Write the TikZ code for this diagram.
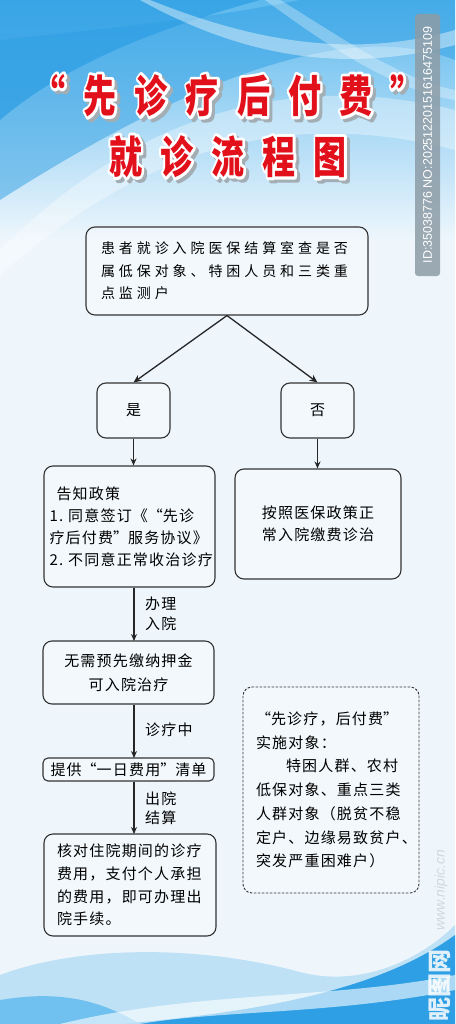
\documentclass[tikz,border=0pt]{standalone}
\usepackage{fontspec}
\usetikzlibrary{arrows.meta}
\newfontfamily\cjk{Noto Sans CJK SC}
\newfontfamily\idfont{Liberation Sans}
\definecolor{bgc}{HTML}{EEF6FC}
\definecolor{blueA}{HTML}{2E9FE4}
\definecolor{blueB}{HTML}{5DB9EE}
\definecolor{blueC}{HTML}{BFE1F6}
\definecolor{titlered}{HTML}{E2101A}
\definecolor{shadowc}{HTML}{A3ADB4}
\definecolor{boxline}{HTML}{333333}
\definecolor{idgray}{HTML}{8D9CA6}
\newcommand\qL{{\addfontfeature{CharacterWidth=Full}“}}
\newcommand\qR{{\addfontfeature{CharacterWidth=Full}”}}
\newcommand\strk[1]{\special{pdf:literal direct 2 Tr 6 w 1 j}#1\special{pdf:literal direct 0 Tr}}
\newcommand\fancy[1]{%
  \rlap{\kern4pt\raisebox{-3pt}{\color{shadowc}\strk{#1}}}%
  \rlap{\color{white}\strk{#1}}%
  {\color{titlered}#1}\hspace{-24.2pt}}
\newcommand\titlefont{\cjk\bfseries\fontsize{44}{44}\selectfont\addfontfeature{LetterSpace=55}}
\tikzset{
  ttl/.style={font=\titlefont,xscale=.75,inner sep=0pt},
  box/.style={draw=boxline,line width=1.1pt,rounded corners=9pt,fill=white,fill opacity=.25,text opacity=1,inner sep=0pt},
  body/.style={font=\cjk\fontsize{15}{22}\selectfont\addfontfeature{LetterSpace=8}},
  arr/.style={-{Stealth[length=8pt,width=7pt]},line width=1.3pt,draw=black!85},
  varr/.style={-{Stealth[length=7pt,width=6pt]},line width=1.2pt,draw=black!85},
  lab/.style={font=\cjk\fontsize{15}{19.5}\selectfont\addfontfeature{LetterSpace=8},anchor=west,align=left,inner sep=0pt},
}
\begin{document}
\begin{tikzpicture}[x=1pt,y=-1pt]
\useasboundingbox (0,0) rectangle (455,1024);
% background
\fill[bgc] (0,0) rectangle (455,1024);
\fill[top color=blueB,bottom color=bgc] (0,0) rectangle (455,240);
\fill[blueA,opacity=.75] (0,0) -- (260,0) .. controls (170,25) and (70,60) .. (0,120) -- cycle;
\fill[blueA,opacity=.5] (0,40) .. controls (90,30) and (200,20) .. (300,0) -- (455,0) -- (455,60) .. controls (380,30) and (250,40) .. (0,200) -- cycle;
\fill[white,opacity=.35] (0,250) .. controls (100,150) and (250,60) .. (455,110) -- (455,150) .. controls (260,100) and (120,170) .. (0,275) -- cycle;
\fill[white,opacity=.4] (150,0) .. controls (250,40) and (350,60) .. (455,30) -- (455,45) .. controls (340,75) and (240,55) .. (140,0) -- cycle;
\fill[white,opacity=.3] (280,0) .. controls (330,30) and (400,80) .. (455,90) -- (455,100) .. controls (390,90) and (320,40) .. (265,0) -- cycle;
% bottom
\fill[blueC] (0,1024) -- (0,975) .. controls (80,945) and (200,945) .. (300,972) .. controls (360,988) and (420,960) .. (455,925) -- (455,1024) -- cycle;
\fill[blueA] (120,1024) .. controls (260,1012) and (380,990) .. (455,935) -- (455,1024) -- cycle;
\fill[blueB,opacity=.8] (0,1024) -- (0,1000) .. controls (60,990) and (100,1000) .. (140,1024) -- cycle;
\fill[white,opacity=.6] (60,1024) .. controls (200,990) and (330,1000) .. (455,975) -- (455,990) .. controls (330,1015) and (220,1010) .. (140,1024) -- cycle;
% title
\node[ttl] (t1) at (228,97) {\fancy{“先诊疗后付费”}};
\node[ttl] (t2) at (228,158) {\fancy{就诊流程图}};
% nodes
\node[box,minimum width=282,minimum height=88,text width=252,align=left,font=\cjk\fontsize{14}{22.5}\selectfont\addfontfeature{LetterSpace=28}] (top) at (227,271)
 {患者就诊入院医保结算室查是否\\属低保对象、特困人员和三类重\\点监测户};
\node[box,body,minimum width=73,minimum height=55] (yes) at (133.5,410.5) {是};
\node[box,body,minimum width=73,minimum height=55] (no) at (317.5,410.5) {否};
\node[box,body,minimum width=171,minimum height=121,text width=160,align=left] (inform) at (129.5,526.5)
 {\hspace*{7pt}告知政策\\1.~同意签订《\qL 先诊\\疗后付费\qR 服务协议》\\2.~不同意正常收治诊疗};
\node[box,body,minimum width=166,minimum height=110,align=center] (normal) at (318,524)
 {按照医保政策正\\常入院缴费诊治};
\node[box,body,minimum width=171,minimum height=63,align=center,font=\cjk\fontsize{15}{24}\selectfont\addfontfeature{LetterSpace=8}] (nodep) at (128.5,672.5)
 {无需预先缴纳押金\\可入院治疗};
\node[box,body,minimum width=171,minimum height=23,rounded corners=5pt] (list) at (128.5,769.5)
 {提供\qL 一日费用\qR 清单};
\node[box,body,minimum width=172,minimum height=102,text width=146,align=left,font=\cjk\fontsize{15}{22.7}\selectfont\addfontfeature{LetterSpace=8}] (check) at (130,885)
 {核对住院期间的诊疗\\费用，支付个人承担\\的费用，即可办理出\\院手续。};
\node[box,body,dashed,dash pattern=on 2.5pt off 1.5pt,line width=.9pt,minimum width=176,minimum height=206,text width=150,align=left,font=\cjk\fontsize{15}{23.7}\selectfont\addfontfeature{LetterSpace=8}] (target) at (331,790)
 {\qL 先诊疗，后付费\qR\\实施对象：\\\hspace*{2em}特困人群、农村\\低保对象、重点三类\\人群对象（脱贫不稳\\定户、边缘易致贫户、\\突发严重困难户）};
% connectors
\draw[arr] (top.south) -- (yes.north);
\draw[arr] (top.south) -- (no.north);
\draw[varr] (yes) -- (yes|-inform.north);
\draw[varr] (no) -- (no|-normal.north);
\draw[varr] (inform.south-|134,0) -- (134,641);
\draw[varr] (nodep.south-|134,0) -- (134,758);
\draw[varr] (list.south-|134,0) -- (134,834);
\node[lab] (l1) at (145,614) {办理\\入院};
\node[lab] (l2) at (145,729.5) {诊疗中};
\node[lab] (l3) at (145,808) {出院\\结算};
% watermark bar
\node[rotate=90,fill=idgray,fill opacity=.85,text opacity=1,rounded corners=3pt,minimum width=262,minimum height=25,text=white,font=\idfont\fontsize{12.5}{12.5}\selectfont,inner sep=0pt] (idbar) at (427.5,145) {ID:35038776 NO:20251220151616475109};
\node[rotate=90,text=white,opacity=.85,font=\cjk\bfseries\fontsize{24}{24}\selectfont] (logo) at (440,985) {昵图网};
\node[rotate=90,text=black,opacity=.12,font=\idfont\itshape\fontsize{14}{14}\selectfont] (url) at (441,890) {www.nipic.cn};
\end{tikzpicture}
\end{document}
